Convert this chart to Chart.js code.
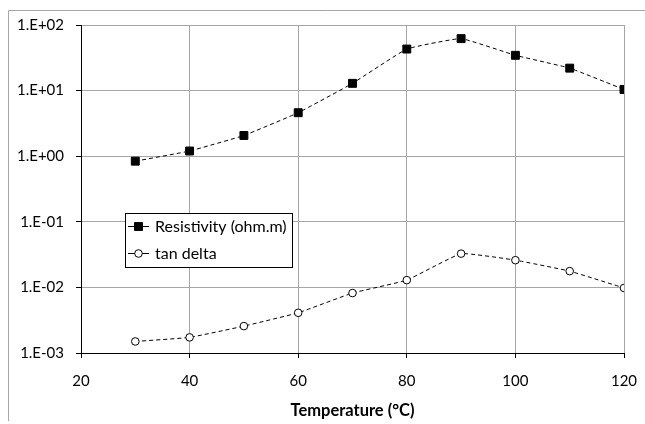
<!DOCTYPE html>
<html lang="en">
<head>
<meta charset="UTF-8">
<title>Resistivity and tan delta vs temperature</title>
<style>
  html, body { margin: 0; padding: 0; background: #fff; }
  #wrap { position: relative; width: 645px; height: 424px; }
</style>
<script src="https://cdn.jsdelivr.net/npm/chart.js"></script>
</head>
<body>
<div id="wrap"><canvas id="chart" width="645" height="424"></canvas></div>
<script>
// data
const temperatures = [30, 40, 50, 60, 70, 80, 90, 100, 110, 120];
const resistivity = [0.84, 1.2, 2.07, 4.6, 12.9, 43, 62, 34.5, 22, 10.4];
const tanDelta = [0.0015, 0.00173, 0.00257, 0.0041, 0.0082, 0.0129, 0.0327, 0.026, 0.0177, 0.0098];
const xTicks = [20, 40, 60, 80, 100, 120];
const yTicks = [1e-3, 1e-2, 1e-1, 1e0, 1e1, 1e2];
const xTitle = 'Temperature (°C)';
const seriesNames = ['Resistivity (ohm.m)', 'tan delta'];

const FONT = 'Lato, "Open Sans", sans-serif';

function toPoints(ys) {
  return temperatures.map((t, i) => ({ x: t, y: ys[i] }));
}

function fmtExp(v) {
  const e = Math.round(Math.log10(v));
  const sign = e < 0 ? '-' : '+';
  return '1.E' + sign + String(Math.abs(e)).padStart(2, '0');
}

// outer frame like the Excel chart area
const framePlugin = {
  id: 'frame',
  beforeDraw(chart) {
    const ctx = chart.ctx;
    ctx.save();
    ctx.fillStyle = '#fff';
    ctx.fillRect(0, 0, chart.width, chart.height);
    ctx.strokeStyle = '#a6a6a6';
    ctx.lineWidth = 1;
    ctx.beginPath();
    ctx.moveTo(8.5, 421);
    ctx.lineTo(8.5, 10.5);
    ctx.lineTo(chart.width, 10.5);
    ctx.stroke();
    ctx.restore();
  }
};

// boxed legend sitting inside the plot area
const boxLegend = {
  id: 'boxLegend',
  afterDraw(chart) {
    const ctx = chart.ctx;
    const x0 = 125.5, y0 = 213.5, w = 167, h = 54;
    ctx.save();
    ctx.fillStyle = '#fff';
    ctx.fillRect(x0, y0, w, h);
    ctx.strokeStyle = '#000';
    ctx.lineWidth = 1;
    ctx.strokeRect(x0, y0, w, h);
    const rows = [226.5, 253.5];
    chart.data.datasets.forEach((ds, i) => {
      const y = rows[i];
      ctx.setLineDash([]);
      ctx.lineWidth = 1;
      ctx.strokeStyle = '#000';
      ctx.beginPath();
      ctx.moveTo(128, y);
      ctx.lineTo(149, y);
      ctx.stroke();
      ctx.fillStyle = ds.pointBackgroundColor;
      ctx.strokeStyle = ds.pointBorderColor;
      Chart.helpers.drawPoint(ctx, {
        pointStyle: ds.pointStyle,
        radius: ds.pointRadius,
        borderWidth: 1
      }, 138.5, y);
      ctx.fillStyle = '#000';
      ctx.font = '16px ' + FONT;
      ctx.textBaseline = 'middle';
      ctx.textAlign = 'left';
      ctx.fillText(ds.label, 155, y);
    });
    ctx.restore();
  }
};

new Chart(document.getElementById('chart'), {
  type: 'line',
  data: {
    datasets: [
      {
        label: seriesNames[0],
        data: toPoints(resistivity),
        borderColor: '#000',
        borderWidth: 1,
        borderDash: [4, 3],
        pointStyle: 'rect',
        pointRadius: 5.6,
        pointBackgroundColor: '#000',
        pointBorderColor: '#000',
        pointBorderWidth: 1,
        tension: 0.1,
        fill: false
      },
      {
        label: seriesNames[1],
        data: toPoints(tanDelta),
        borderColor: '#000',
        borderWidth: 1,
        borderDash: [4, 3],
        pointStyle: 'circle',
        pointRadius: 3.8,
        pointBackgroundColor: '#fff',
        pointBorderColor: '#000',
        pointBorderWidth: 1,
        tension: 0.1,
        fill: false
      }
    ]
  },
  options: {
    responsive: false,
    animation: false,
    layout: { padding: { left: 0, top: 25, right: 21, bottom: 0 } },
    plugins: {
      legend: { display: false },
      tooltip: { enabled: false }
    },
    scales: {
      x: {
        type: 'linear',
        min: 20,
        max: 120,
        afterBuildTicks(scale) { scale.ticks = xTicks.map(v => ({ value: v })); },
        afterFit(scale) {
          scale.height = 71;
          scale.paddingLeft = 0;
          scale.paddingRight = 0;
        },
        ticks: {
          color: '#000',
          font: { family: FONT, size: 15 },
          padding: 14,
          maxRotation: 0
        },
        grid: { color: '#a6a6a6', lineWidth: 1, tickLength: 5, tickColor: '#000' },
        border: { color: '#000', width: 1 },
        title: {
          display: true,
          text: xTitle,
          color: '#000',
          font: { family: FONT, size: 16.5, weight: 'bold' },
          padding: { top: 0, bottom: 3 }
        }
      },
      y: {
        type: 'logarithmic',
        min: 1e-3,
        max: 1e2,
        afterBuildTicks(scale) { scale.ticks = yTicks.map(v => ({ value: v })); },
        afterFit(scale) {
          scale.width = 81;
          scale.paddingTop = 0;
          scale.paddingBottom = 0;
        },
        ticks: {
          color: '#000',
          font: { family: FONT, size: 15 },
          padding: 12,
          callback: v => fmtExp(v)
        },
        grid: { color: '#a6a6a6', lineWidth: 1, tickLength: 5, tickColor: '#000' },
        border: { color: '#000', width: 1 }
      }
    }
  },
  plugins: [framePlugin, boxLegend]
});
</script>
</body>
</html>
